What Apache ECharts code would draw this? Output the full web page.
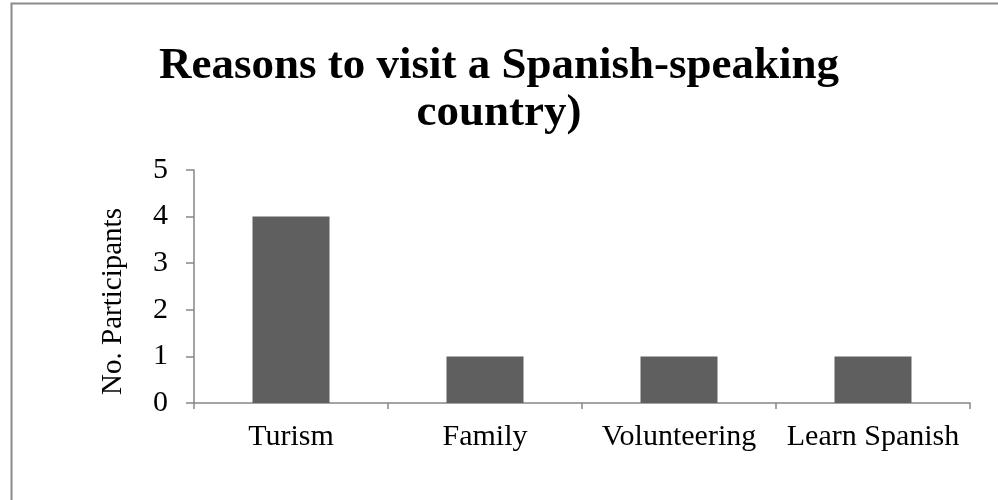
<!DOCTYPE html>
<html>
<head>
<meta charset="utf-8">
<script src="https://cdn.jsdelivr.net/npm/echarts@6/dist/echarts.min.js"></script>
<style>
  html, body { margin: 0; padding: 0; background: #fff; }
  #chart { width: 998px; height: 500px; }
</style>
</head>
<body>
<div id="chart"></div>
<script>
// Survey answers: why participants would visit a Spanish-speaking country
const categories = ['Turism', 'Family', 'Volunteering', 'Learn Spanish'];
const participants = [4, 1, 1, 1];
const yTicks = { min: 0, max: 5, interval: 1 };

const serif = '"Liberation Serif", "Times New Roman", serif';
const axisGrey = '#868686';

const chart = echarts.init(document.getElementById('chart'), null, { renderer: 'canvas' });

chart.setOption({
  backgroundColor: '#ffffff',
  animation: false,
  graphic: [{
    type: 'rect',
    left: 9, top: 1,
    shape: { width: 1000, height: 520 },
    style: { fill: 'none', stroke: '#8a8a8a', lineWidth: 2 },
    silent: true
  }],
  title: {
    text: 'Reasons to visit a Spanish-speaking\ncountry)',
    left: 'center',
    top: 38,
    textStyle: {
      fontFamily: serif,
      fontWeight: 'bold',
      fontSize: 45,
      lineHeight: 47,
      color: '#000'
    }
  },
  grid: { left: 194, right: 28, top: 170, bottom: 97, containLabel: false },
  xAxis: {
    type: 'category',
    data: categories,
    axisLine: { show: true, lineStyle: { color: axisGrey, width: 1.5 } },
    axisTick: { show: true, alignWithLabel: false, length: 6, lineStyle: { color: axisGrey, width: 1.5 } },
    axisLabel: { fontFamily: serif, fontSize: 30, color: '#000', margin: 19, interval: 0 }
  },
  yAxis: {
    type: 'value',
    min: yTicks.min, max: yTicks.max, interval: yTicks.interval,
    name: 'No. Participants',
    nameLocation: 'middle',
    nameRotate: 90,
    nameGap: 66,
    nameTextStyle: { fontFamily: serif, fontSize: 29, color: '#000', padding: [0, 30, 0, 0] },
    axisLine: { show: true, lineStyle: { color: axisGrey, width: 1.5 } },
    axisTick: { show: true, length: 8, lineStyle: { color: axisGrey, width: 1.5 } },
    splitLine: { show: false },
    axisLabel: { fontFamily: serif, fontSize: 30, color: '#000', margin: 26 }
  },
  series: [{
    type: 'bar',
    data: participants,
    barWidth: 77,
    itemStyle: { color: '#5f5f5f' }
  }]
});
</script>
</body>
</html>
